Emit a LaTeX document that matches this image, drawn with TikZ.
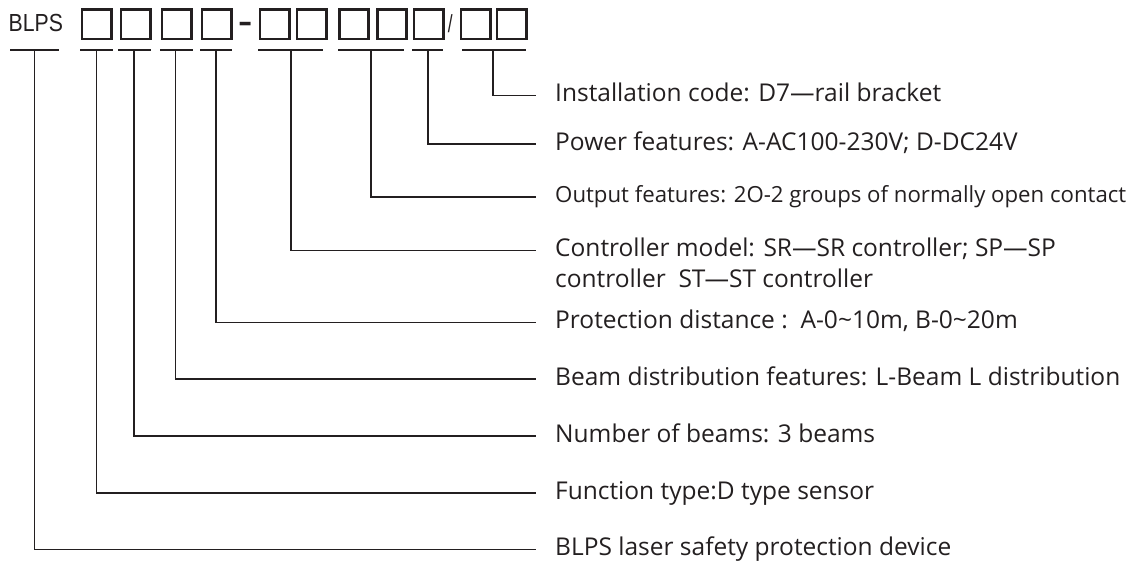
\documentclass[tikz,border=0pt]{standalone}
\usepackage{fontspec}
\setmainfont{Open Sans}
\newfontfamily\codefont{Liberation Sans}
\definecolor{ink}{HTML}{231F20}
\begin{document}
\begin{tikzpicture}[x=1pt,y=-1pt,
  lab/.style={anchor=base west, inner sep=0, text=ink, font=\fontsize{24.5}{31}\selectfont},
  codebox/.style={draw=ink, line width=2.7pt, minimum width=29.3pt, minimum height=29.3pt, inner sep=0},
  tbar/.style={draw=ink, line width=2.6pt},
  conn/.style={draw=ink, line width=1.2pt},
  codetxt/.style={inner sep=0, text=ink, font=\codefont\fontsize{24.7}{30}\selectfont}]
\useasboundingbox (0,0) rectangle (1138,568);

% code line
\node[codetxt, anchor=base west] (blps) at (8.5,31.7) {\scalebox{0.86}[1]{BLPS}};
\foreach \n/\cx in {1/96.7, 2/135.5, 3/176.5, 4/216.5, 5/274.5, 6/311.5, 7/354, 8/392, 9/428.5, 10/475.5, 11/511.5}
  \node[codebox] (b\n) at (\cx,24.2) {};
\node[codetxt, anchor=base west, font=\codefont\bfseries\fontsize{22}{30}\selectfont] (dash) at (239,33.5) {\scalebox{1}[1.6]{–}};
\node[codetxt, anchor=base] (slash) at (450.3,32.5) {\scalebox{0.7}[1]{/}};

% T bars
\foreach \k/\xa/\xb in {a/10/59, b/80/112.7, c/118/151, d/160/193, e/200/232, f/258/323, g/338/403.6, h/412/443, i/462/526}
  \draw[tbar] (\xa,50) -- (\xb,50);

% bar centre points and line ends
\foreach \k/\vx/\ly in {a/34.3/549.5, b/96.7/493, c/134/436, d/175.7/379, e/216/322.7, f/291/250.7, g/371/197, h/428/144, i/493/95.7}{
  \coordinate (t\k) at (\vx,50);
  \coordinate (e\k) at (536,\ly);
}

% labels
\node[lab] (li) at (555,101.7) {Installation code: D7—rail bracket};
\node[lab] (lh) at (555,150) {Power features: A-AC100-230V; D-DC24V};
\node[lab, font=\fontsize{22.2}{31}\selectfont] (lg) at (555,202.7) {Output features: 2O-2 groups of normally open contact};
\node[lab, align=left] (lf) at (555,287.7) {Controller model: SR—SR controller; SP—SP\\controller\ \ ST—ST controller};
\node[lab] (le) at (555,328.7) {Protection distance :\ \ A-0\char`~10m, B-0\char`~20m};
\node[lab] (ld) at (555,385) {Beam distribution features: L-Beam L distribution};
\node[lab] (lc) at (555,442) {Number of beams: 3 beams};
\node[lab] (lb) at (555,499) {Function type:D type sensor};
\node[lab] (la) at (555,555.5) {BLPS laser safety protection device};

% connectors
\foreach \k in {a,b,c,d,e,f,g,h,i}
  \draw[conn] (t\k) |- (e\k);
\end{tikzpicture}
\end{document}
